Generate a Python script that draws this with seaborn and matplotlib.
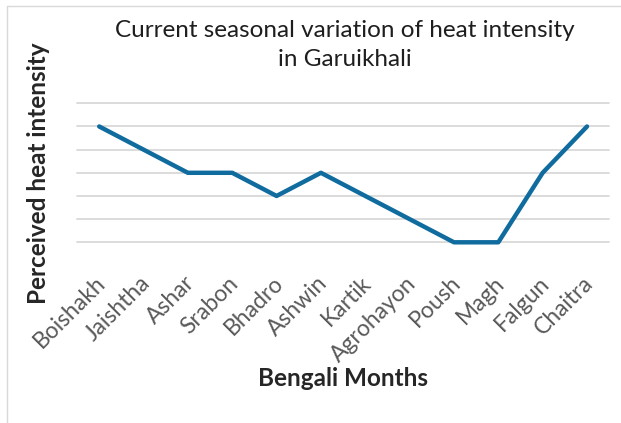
import matplotlib
matplotlib.use("Agg")
import matplotlib.pyplot as plt
import matplotlib.transforms as mtransforms
import seaborn as sns
import pandas as pd
from matplotlib.lines import Line2D

# Bengali months and perceived heat intensity
months = ["Boishakh", "Jaishtha", "Ashar", "Srabon", "Bhadro", "Ashwin",
          "Kartik", "Agrohayon", "Poush", "Magh", "Falgun", "Chaitra"]
intensity = [5, 4, 3, 3, 2, 3, 2, 1, 0, 0, 3, 5]
grid_levels = [0, 1, 2, 3, 4, 5, 6]

df = pd.DataFrame({"Month": months, "Intensity": intensity})

sns.set_style("white")
plt.rcParams["font.family"] = ["Lato", "DejaVu Sans"]

fig = plt.figure(figsize=(6.21, 4.23), dpi=100)
ax = fig.add_axes([0.124, 0.4272, 0.857, 0.3286])

for lv in grid_levels:
    ax.axhline(lv, color="#d9d9d9", linewidth=1.3, zorder=0, clip_on=False)

sns.lineplot(data=df, x="Month", y="Intensity", sort=False,
             color="#106c9e", linewidth=3.2, ax=ax, clip_on=False)

ax.set_xlim(-0.5, len(months) - 0.5)
ax.set_ylim(0, 6)
ax.set_yticks([])
for s in ax.spines.values():
    s.set_visible(False)

ax.set_xticks(range(len(months)))
ax.set_xticklabels(months, rotation=45, ha="right", va="center",
                   rotation_mode="anchor", fontsize=16.5, color="#595959")
ax.tick_params(axis="x", length=0, pad=27)
shift = mtransforms.ScaledTranslation(3 / 100, 0, fig.dpi_scale_trans)
for lab in ax.get_xticklabels():
    lab.set_transform(lab.get_transform() + shift)

ax.set_xlabel("Bengali Months", fontsize=17.5, fontweight="bold", va="center")
ax.xaxis.set_label_coords(0.5, -0.98)
ax.set_ylabel("Perceived heat intensity", fontsize=17.5, fontweight="bold")
ax.yaxis.set_label_coords(-0.05, 0.5)

fig.text(0.556, 0.894, "Current seasonal variation of heat intensity\nin Garuikhali",
         ha="center", va="center", fontsize=17.5, color="#1e1e1e", linespacing=1.45)

# chart area border (left and top edges visible)
fig.add_artist(Line2D([0.0113, 0.0113], [0, 0.986], color="#d9d9d9", linewidth=1.0,
                      transform=fig.transFigure))
fig.add_artist(Line2D([0.0113, 1.0], [0.986, 0.986], color="#d9d9d9", linewidth=1.0,
                      transform=fig.transFigure))

fig.savefig("out.png", dpi=100)
